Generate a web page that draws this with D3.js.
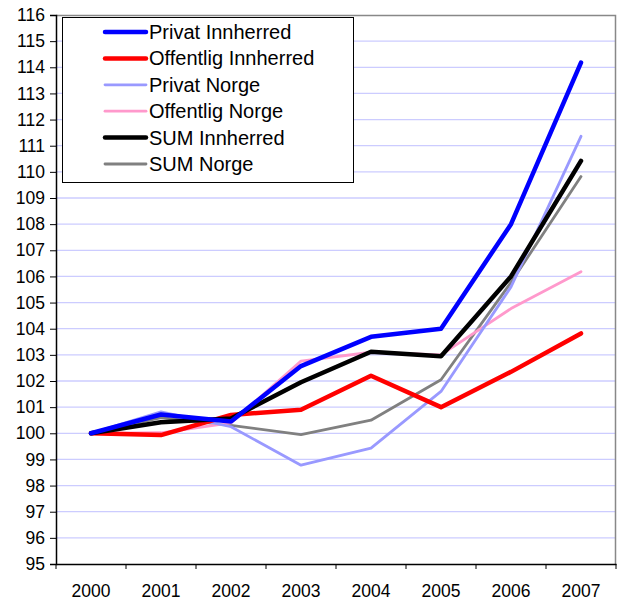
<!DOCTYPE html>
<html>
<head>
<meta charset="utf-8">
<script src="https://cdn.jsdelivr.net/npm/d3@7"></script>
<style>
	body { margin: 0; background: #fff; }
	svg text { font-family: "Liberation Sans", Arial, sans-serif; fill: #000; }
</style>
</head>
<body>
<svg id="chart" width="623" height="601"></svg>
<script>
var years = ['2000', '2001', '2002', '2003', '2004', '2005', '2006', '2007'];
var yTicks = [95, 96, 97, 98, 99, 100, 101, 102, 103, 104, 105, 106, 107, 108, 109, 110, 111, 112, 113, 114, 115, 116];

var privatInnherred   = [100, 100.72, 100.45, 102.57, 103.69, 104.0, 108.0, 114.18];
var offentligInnherred = [100, 99.93, 100.7, 100.9, 102.2, 101.0, 102.35, 103.82];
var privatNorge       = [100, 100.82, 100.25, 98.78, 99.43, 101.6, 105.6, 111.36];
var offentligNorge    = [100, 100.02, 100.4, 102.76, 103.1, 103.0, 104.77, 106.18];
var sumInnherred      = [100, 100.42, 100.57, 101.95, 103.12, 102.95, 106.0, 110.42];
var sumNorge          = [100, 100.6, 100.3, 99.95, 100.5, 102.05, 105.77, 109.82];

var seriesNames = ['Privat Innherred', 'Offentlig Innherred', 'Privat Norge', 'Offentlig Norge', 'SUM Innherred', 'SUM Norge'];
var seriesValues = [privatInnherred, offentligInnherred, privatNorge, offentligNorge, sumInnherred, sumNorge];
var seriesColors = ['#0000ff', '#ff0000', '#9999ff', '#ff99cc', '#000000', '#808080'];
var seriesWidths = [4.5, 4.5, 2.8, 2.8, 4.5, 2.8];

var Chart = {

	margin: {left: 56, right: 7, top: 15, bottom: 37},

	init: function() {
		var svg = d3.select('#chart'),
			w = +svg.attr('width') - Chart.margin.left - Chart.margin.right,
			h = +svg.attr('height') - Chart.margin.top - Chart.margin.bottom;

		var x = d3.scaleBand().domain(years).range([0, w]);
		var y = d3.scaleLinear().domain([95, 116]).range([h, 0]);

		var g = svg.append('g')
			.attr('transform', 'translate(' + Chart.margin.left + ',' + Chart.margin.top + ')');

		// gridlines
		g.selectAll('line.grid')
			.data(yTicks.slice(1, -1))
			.enter()
			.append('line')
			.attr('class', 'grid')
			.attr('x1', 0)
			.attr('x2', w)
			.attr('y1', function(d) { return y(d); })
			.attr('y2', function(d) { return y(d); })
			.style('stroke', '#ccccff')
			.style('stroke-width', 1.3);

		// top and right border
		g.append('path')
			.attr('d', 'M0,0.5H' + (w - 0.5) + 'V' + h)
			.style('fill', 'none')
			.style('stroke', '#888')
			.style('stroke-width', 1.5);

		// y axis
		var yAxis = g.append('g')
			.call(d3.axisLeft(y).tickValues(yTicks).tickSize(6).tickPadding(5));
		yAxis.select('.domain').style('stroke', '#000').style('stroke-width', 1.5);
		yAxis.selectAll('.tick line').style('stroke', '#000');
		yAxis.selectAll('text').style('font-size', '17.5px');

		// x axis, ticks between the categories
		var xAxis = g.append('g')
			.attr('transform', 'translate(0,' + h + ')')
			.call(d3.axisBottom(x).tickSize(0).tickPadding(21));
		xAxis.select('.domain').style('stroke', '#000').style('stroke-width', 1.5);
		xAxis.selectAll('text').style('font-size', '17.5px');
		xAxis.selectAll('line.cat')
			.data(years.concat(['end']))
			.enter()
			.append('line')
			.attr('class', 'cat')
			.attr('x1', function(d, i) { return i * x.bandwidth(); })
			.attr('x2', function(d, i) { return i * x.bandwidth(); })
			.attr('y1', 0)
			.attr('y2', 5)
			.style('stroke', '#000');

		// lines
		var line = d3.line()
			.x(function(d, i) { return x(years[i]) + x.bandwidth() / 2; })
			.y(function(d) { return y(d); });

		var order = [5, 3, 2, 1, 4, 0];
		order.forEach(function(k) {
			g.append('path')
				.datum(seriesValues[k])
				.attr('d', line)
				.style('fill', 'none')
				.style('stroke', seriesColors[k])
				.style('stroke-width', seriesWidths[k])
				.style('stroke-linejoin', 'round')
				.style('stroke-linecap', 'round');
		});

		Chart.legend(svg);
	},

	legend: function(svg) {
		var lg = svg.append('g').attr('transform', 'translate(62,17)');
		lg.append('rect')
			.attr('x', 0.5)
			.attr('y', 0.5)
			.attr('width', 291)
			.attr('height', 165)
			.style('fill', '#fff')
			.style('stroke', '#000')
			.style('stroke-width', 1);

		var rows = lg.selectAll('g.row')
			.data(seriesNames)
			.enter()
			.append('g')
			.attr('class', 'row')
			.attr('transform', function(d, i) { return 'translate(0,' + (15 + i * 26.4) + ')'; });

		rows.append('line')
			.attr('x1', 43)
			.attr('x2', 84)
			.attr('y1', 0)
			.attr('y2', 0)
			.style('stroke', function(d, i) { return seriesColors[i]; })
			.style('stroke-width', function(d, i) { return seriesWidths[i]; })
			.style('stroke-linecap', 'round');

		rows.append('text')
			.attr('x', 87)
			.attr('y', 7)
			.style('font-size', '20px')
			.text(function(d) { return d; });
	}
};

Chart.init();
</script>
</body>
</html>
